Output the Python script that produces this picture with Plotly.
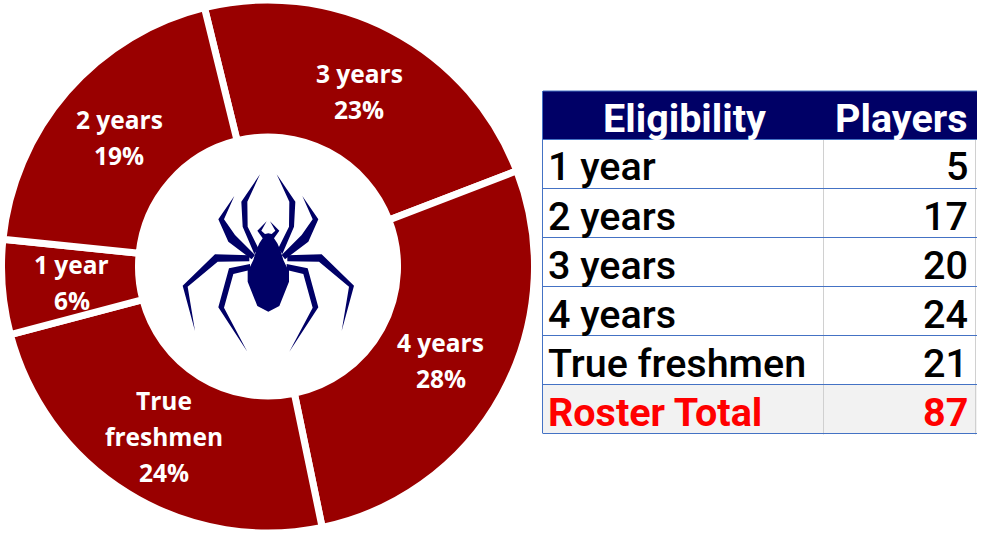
import math
import plotly.graph_objects as go

# ---- data ----
categories = ["3 years", "4 years", "True freshmen", "1 year", "2 years"]
players = [20, 24, 21, 5, 17]
percents = ["23%", "28%", "24%", "6%", "19%"]
slice_lines = [["3 years"], ["4 years"], ["True", "freshmen"], ["1 year"], ["2 years"]]
table_header = ["Eligibility", "Players"]
table_names = ["1 year", "2 years", "3 years", "4 years", "True freshmen", "Roster Total"]
table_counts = ["5", "17", "20", "24", "21", "87"]

W, H = 986, 537
DARKRED = "#990000"
NAVY = "#000066"
BLUE = "#4472C4"
GREY = "#D0D0D0"
TFONT = "Roboto"
PFONT = "Open Sans"
ROTATION = 346.2

# logo outline (from the picture): right half, mirrored about the axis
AXIS = 295
logo_body = [(295,220),(305,222),(316,212),(300,184),(328,212),(312,235),(322,250),(331,270),(340,300),(352,325),(357,330),(357,365),(328,438),(295,455)]
logo_legs = [
    [(320,43),(376,125),(372,200),(337,282),(325,265),(357,200),(358,125)],
    [(397,108),(445,178),(415,245),(345,298),(335,285),(395,225),(428,178)],
    [(352,286),(455,283),(552,377),(515,513),(537,380),(447,305),(352,304)],
    [(350,312),(413,325),(445,442),(358,575),(428,443),(400,342),(350,330)],
]

def zpx(zx, zy):
    return (zx/3+170)/W, 1-(zy/3+160)/H

def path(pts):
    return "M" + " L".join("%.5f,%.5f" % zpx(*p) for p in pts) + " Z"

def mirror(pts):
    return [(2*AXIS-x, y) for x, y in pts]

logo_paths = [path(logo_body + mirror(logo_body)[::-1])]
for leg in logo_legs:
    logo_paths += [path(leg), path(mirror(leg))]

def X(v): return v/W
def Y(v): return 1-v/H

shapes = []
def rect(x0, x1, y0, y1, fill):
    shapes.append(dict(type="rect", xref="paper", yref="paper", x0=X(x0), x1=X(x1), y0=Y(y0), y1=Y(y1),
                       fillcolor=fill, line=dict(width=0), layer="below"))
def line(x0, y0, x1, y1, color):
    shapes.append(dict(type="line", xref="paper", yref="paper", x0=X(x0), x1=X(x1), y0=Y(y0), y1=Y(y1),
                       line=dict(color=color, width=1), layer="below"))

TX0, TXM, TX1 = 543, 823.5, 977
ROW0, HEAD_H, ROW_H = 91, 48.5, 49
row_tops = [ROW0 + HEAD_H + i*ROW_H for i in range(7)]
rect(TX0, TX1, ROW0, ROW0+HEAD_H, NAVY)
rect(TX0, TX1, row_tops[5], row_tops[6], "#F2F2F2")
line(TXM, row_tops[0], TXM, row_tops[6]+1, GREY)
line(975.5, row_tops[0], 975.5, row_tops[6]+1, GREY)
line(TX0, ROW0, TX1, ROW0, BLUE)
for y in row_tops:
    line(TX0, y, TX1, y, BLUE)
line(TX0-0.5, ROW0, TX0-0.5, row_tops[6], BLUE)
for p in logo_paths:
    shapes.append(dict(type="path", xref="paper", yref="paper", path=p, fillcolor=NAVY, line=dict(width=0)))

annotations = []
def text(s, x, y, family, size, color, anchor, weight=400):
    annotations.append(dict(text=s, xref="paper", yref="paper", x=X(x), y=Y(y), xanchor=anchor, yanchor="middle",
                            showarrow=False, font=dict(family=family, size=size, color=color, weight=weight)))

# slice labels placed from the data's own angles
cx, cy, R = 268, 266.5, 266.5
LABEL_R, LINE_H = 197, 36
NUDGE_Y = {"True freshmen": 2, "1 year": 1, "3 years": 0, "2 years": 0}
total = sum(players)
cum = 0
for cat, v, pct, lines in zip(categories, players, percents, slice_lines):
    mid = math.radians(ROTATION + (cum + v/2)/total*360)
    cum += v
    lx = cx + LABEL_R*math.sin(mid)
    ly = cy - LABEL_R*math.cos(mid) + NUDGE_Y.get(cat, 0)
    rows = lines + [pct]
    for i, s in enumerate(rows):
        text(s, lx, ly + (i-(len(rows)-1)/2)*LINE_H, PFONT, 24.5, "white", "center", 700)

# table text
text(table_header[0], 684, ROW0+HEAD_H/2+3, TFONT, 39.5, "white", "center", 700)
text(table_header[1], 969, ROW0+HEAD_H/2+3, TFONT, 39.5, "white", "right", 700)
for i, (n, c) in enumerate(zip(table_names, table_counts)):
    last = i == 5
    col = "#FF0000" if last else "black"
    wt = 700 if last else 500
    ymid = row_tops[i] + ROW_H/2 + 3
    text(n, 546, ymid, TFONT, 39.5, col, "left", wt)
    text(c, 970, ymid, TFONT, 39.5, col, "right", wt)

fig = go.Figure()
fig.add_trace(go.Pie(
    labels=categories, values=players, textinfo="none",
    sort=False, direction="clockwise", rotation=ROTATION, hole=0.486,
    marker=dict(colors=[DARKRED]*5, line=dict(color="white", width=7)),
    showlegend=False, hoverinfo="label+percent",
    domain=dict(x=[(cx-R)/W, (cx+R)/W], y=[1-(cy+R)/H, 1-(cy-R)/H]),
))
fig.update_layout(width=W, height=H, margin=dict(l=0, r=0, t=0, b=0),
                  paper_bgcolor="white", plot_bgcolor="white", shapes=shapes, annotations=annotations, showlegend=False)
fig.write_html("out.html", config=dict(displayModeBar=False),
               post_script="document.body.style.margin='0';document.body.style.overflow='hidden';")
